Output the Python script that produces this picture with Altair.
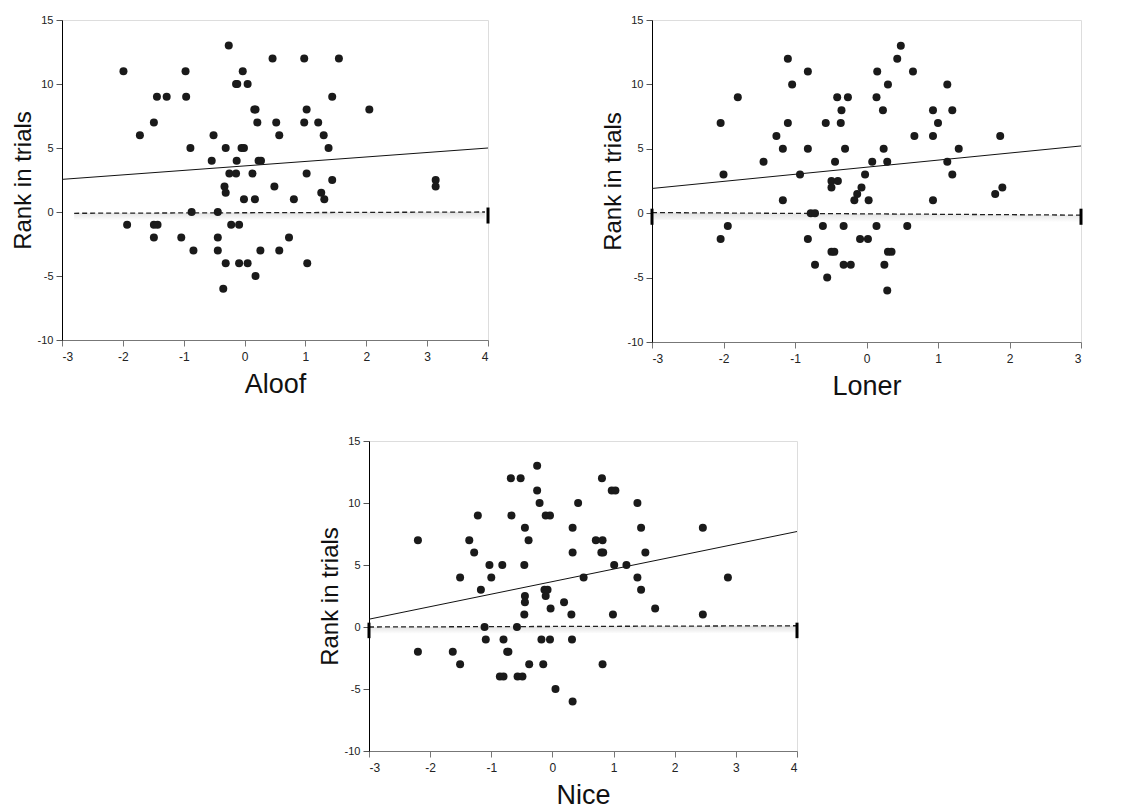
import altair as alt
import pandas as pd

# ---------------- data ----------------
aloof_x = [-1.99, -1.93, -1.72, -1.49, -1.44, -1.28, -1.49, -1.43, -1.49, -1.04,
           -0.97, -0.96, -0.89, -0.87, -0.84, -0.51, -0.54, -0.44, -0.44, -0.44,
           -0.31, -0.33, -0.31, -0.31, -0.35, -0.26, -0.25, -0.14, -0.13, -0.14,
           -0.12, -0.22, -0.09, -0.09, -0.03, -0.05, -0.01, -0.01, 0.05, 0.05,
           0.13, 0.16, 0.18, 0.17, 0.21, 0.18, 0.23, 0.27, 0.26, 0.46,
           0.49, 0.52, 0.57, 0.57, 0.73, 0.81, 0.98, 0.98, 1.02, 1.02,
           1.03, 1.21, 1.26, 1.30, 1.31, 1.38, 1.44, 1.44, 1.55, 2.05,
           3.14, 3.14]
aloof_y = [11, -1, 6, 7, 9, 9, -1, -1, -2, -2,
           11, 9, 5, 0, -3, 6, 4, 0, -2, -3,
           5, 2, 1.5, -4, -6, 13, 3, 3, 4, 10,
           10, -1, -1, -4, 11, 5, 5, 1, 10, -4,
           3, 8, 8, 1, 7, -5, 4, 4, -3, 12,
           2, 7, 6, -3, -2, 1, 12, 7, 8, 3,
           -4, 7, 1.5, 6, 1, 5, 9, 2.5, 12, 8,
           2.5, 2]

loner_x = [-2.04, -2.04, -2.00, -1.94, -1.80, -1.44, -1.26, -1.17, -1.17, -1.10,
           -1.10, -1.04, -0.93, -0.82, -0.82, -0.82, -0.78, -0.72, -0.72, -0.61,
           -0.57, -0.55, -0.49, -0.49, -0.49, -0.45, -0.44, -0.41, -0.40, -0.35,
           -0.36, -0.32, -0.32, -0.30, -0.26, -0.22, -0.17, -0.13, -0.09, -0.07,
           -0.02, 0.02, 0.03, 0.08, 0.15, 0.14, 0.14, 0.23, 0.24, 0.25,
           0.29, 0.29, 0.30, 0.30, 0.35, 0.43, 0.48, 0.57, 0.65, 0.67,
           0.93, 0.93, 0.93, 1.00, 1.13, 1.13, 1.20, 1.20, 1.29, 1.80,
           1.87, 1.90]
loner_y = [7, -2, 3, -1, 9, 4, 6, 5, 1, 12,
           7, 10, 3, 11, 5, -2, 0, 0, -4, -1,
           7, -5, 2, 2.5, -3, -3, 4, 9, 2.5, 8,
           7, -1, -4, 5, 9, -4, 1, 1.5, -2, 2,
           3, -2, 1, 4, 11, 9, -1, 8, 5, -4,
           4, -6, 10, -3, -3, 12, 13, -1, 11, 6,
           8, 6, 1, 7, 10, 4, 8, 3, 5, 1.5,
           6, 2]

nice_x = [-2.20, -2.20, -1.63, -1.51, -1.51, -1.36, -1.28, -1.22, -1.17, -1.11,
          -1.09, -1.03, -1.00, -0.86, -0.80, -0.82, -0.80, -0.74, -0.72, -0.68,
          -0.67, -0.58, -0.57, -0.52, -0.49, -0.46, -0.46, -0.45, -0.45, -0.45,
          -0.39, -0.38, -0.25, -0.25, -0.21, -0.18, -0.15, -0.13, -0.11, -0.08,
          -0.11, -0.04, -0.04, -0.03, 0.05, 0.19, 0.31, 0.32, 0.33, 0.33,
          0.33, 0.42, 0.51, 0.71, 0.82, 0.81, 0.80, 0.83, 0.82, 0.97,
          1.03, 0.99, 1.01, 1.21, 1.39, 1.39, 1.45, 1.45, 1.52, 1.68,
          2.46, 2.46, 2.87]
nice_y = [7, -2, -2, 4, -3, 7, 6, 9, 3, 0,
          -1, 5, 4, -4, -4, 5, -1, -2, -2, 12,
          9, 0, -4, 12, -4, 5, 1, 8, 2.5, 2,
          7, -3, 13, 11, 10, -1, -3, 3, 2.5, 3,
          9, 9, -1, 1.5, -5, 2, 1, -1, 8, 6,
          -6, 10, 4, 7, 7, 12, 6, 6, -3, 11,
          11, 1, 5, 5, 10, 4, 8, 3, 6, 1.5,
          8, 1, 4]

# fitted (solid) line end points and dashed reference line end points
aloof_fit_x, aloof_fit_y = [-3, 4], [2.55, 5.0]
loner_fit_x, loner_fit_y = [-3, 3], [1.92, 5.22]
nice_fit_x, nice_fit_y = [-3, 4], [0.63, 7.7]

aloof_dash_x, aloof_dash_y = [-2.8, 3.95], [-0.1, 0.0]
loner_dash_x, loner_dash_y = [-3, 3], [0.05, -0.15]
nice_dash_x, nice_dash_y = [-3, 4], [0.0, 0.1]

aloof_marks = [4]
loner_marks = [-3, 3]
nice_marks = [-3, 4]

y_ticks = [-10, -5, 0, 5, 10, 15]

FONT = "Liberation Sans"


def panel(xs, ys, xmax, title, fx, fy, dx, dy, marks, w, h):
    pts = pd.DataFrame({"x": xs, "y": ys})
    fit = pd.DataFrame({"x": fx, "y": fy})
    dash = pd.DataFrame({"x": dx, "y": dy, "y2": [v - 0.55 for v in dy]})
    mk = pd.DataFrame({"x": marks, "y": [0.35] * len(marks), "y2": [-0.9] * len(marks)})
    xticks = list(range(-3, xmax + 1))

    xs_ = alt.Scale(domain=[-3, xmax], nice=False, zero=False)
    ys_ = alt.Scale(domain=[-10, 15], nice=False, zero=False)
    xax = alt.Axis(values=xticks, title=title, titleFontSize=27, titleFont=FONT,
                   titleFontWeight="normal", titleColor="#111", titlePadding=9,
                   labelFont=FONT, labelFontSize=12, labelColor="#222",
                   labelExpr="'' + datum.value",
                   domainColor="#777", tickColor="#777", tickSize=6, grid=False,
                   labelPadding=5)
    yax = alt.Axis(values=y_ticks, title="Rank in trials", titleFontSize=24,
                   titleFont=FONT, titleFontWeight="normal", titleColor="#111",
                   titlePadding=2, labelFont=FONT, labelFontSize=11,
                   labelExpr="'' + datum.value",
                   labelColor="#222", domainColor="#000", tickColor="#555",
                   tickSize=6, grid=False, labelPadding=3)

    base_x = alt.X("x:Q", scale=xs_, axis=xax)
    base_y = alt.Y("y:Q", scale=ys_, axis=yax)

    band = alt.Chart(dash).mark_area(
        fill=alt.Gradient(gradient="linear",
                          stops=[alt.GradientStop(color="#dcdcdc", offset=0),
                                 alt.GradientStop(color="#ffffff", offset=1)],
                          x1=0, x2=0, y1=0, y2=1),
        opacity=0.9).encode(x=base_x, y=base_y, y2="y2:Q")
    dline = alt.Chart(dash).mark_line(color="#222", strokeDash=[5, 3],
                                      strokeWidth=1.3).encode(x=base_x, y=base_y)
    endmk = alt.Chart(mk).mark_rule(color="#000", strokeWidth=3).encode(
        x=base_x, y=base_y, y2="y2:Q")
    fline = alt.Chart(fit).mark_line(color="#111", strokeWidth=1).encode(
        x=base_x, y=base_y)
    dots = alt.Chart(pts).mark_circle(color="#1a1a1a", opacity=1, size=64).encode(
        x=base_x, y=base_y)
    return alt.layer(band, dline, endmk, fline, dots).properties(width=w, height=h)


p1 = panel(aloof_x, aloof_y, 4, "Aloof", aloof_fit_x, aloof_fit_y,
           aloof_dash_x, aloof_dash_y, aloof_marks, 426, 320)
p2 = panel(loner_x, loner_y, 3, "Loner", loner_fit_x, loner_fit_y,
           loner_dash_x, loner_dash_y, loner_marks, 429, 322)
p3 = panel(nice_x, nice_y, 4, "Nice", nice_fit_x, nice_fit_y,
           nice_dash_x, nice_dash_y, nice_marks, 428, 310)

spacer = alt.Chart(pd.DataFrame({"a": [0]})).mark_point(opacity=0).properties(
    width=255, height=1, view=alt.ViewBackground(strokeOpacity=0))

top = alt.hconcat(p1, p2, spacing=109)
bottom = alt.hconcat(spacer, p3, spacing=0)
chart = alt.vconcat(top, bottom, spacing=34).properties(
    padding={"left": 2, "top": 5, "right": 5, "bottom": 5}
).configure_view(stroke="#888", strokeWidth=1).configure(background="white")

chart.save("out.html", embed_options={"renderer": "svg", "actions": False})
